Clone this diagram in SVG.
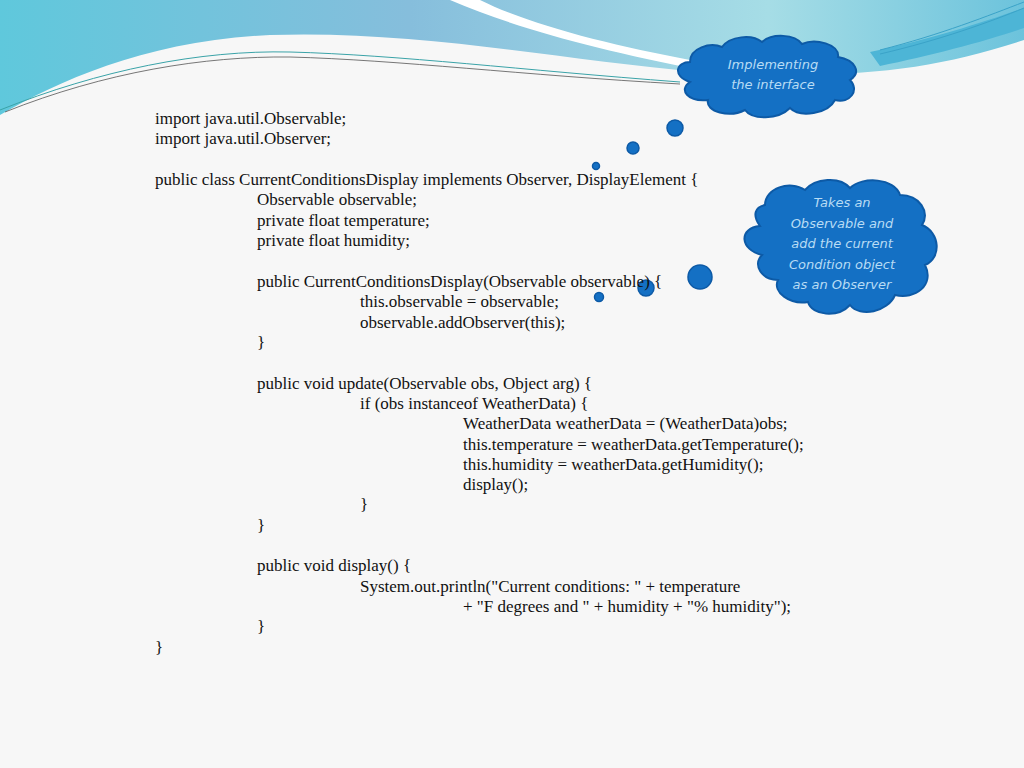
<svg xmlns="http://www.w3.org/2000/svg" width="1024" height="768" viewBox="0 0 1024 768">
<defs>
<linearGradient id="bg" x1="0" y1="0" x2="1" y2="0">
<stop offset="0" stop-color="#5fc8dc"/><stop offset="0.4" stop-color="#86bedc"/><stop offset="0.75" stop-color="#a6dde6"/><stop offset="1" stop-color="#6cc3dc"/>
</linearGradient>
<style>
.code{font-family:"Liberation Serif",serif;font-size:17px;fill:#111}
.cloud{fill:#1470c4;stroke:#0d5aa6;stroke-width:2}
.ct{font-family:"DejaVu Sans",sans-serif;font-style:italic;font-size:13px;fill:#b8dcf4;text-anchor:middle}
.dot{fill:#1470c4;stroke:#0d5aa6;stroke-width:1.5}
</style>
</defs>
<rect width="1024" height="768" fill="#f7f7f7"/>
<path d="M0 0 H1024 V40 C930 70 860 80 700 72 C560 60 420 30 270 35 C150 40 60 80 0 115 Z" fill="url(#bg)"/>
<path d="M450 0 C520 30 600 50 700 70 L690 60 C610 45 530 25 480 0 Z" fill="#ffffff"/>
<path d="M870 52 C930 40 990 20 1024 8 V28 C990 40 930 56 880 66 Z" fill="#4db5d6"/>
<path d="M0 110 C100 70 200 50 290 52 C400 55 520 70 680 82" fill="none" stroke="#3aa3a8" stroke-width="1"/>
<path d="M5 112 C105 72 205 56 290 57 C400 60 520 75 680 84" fill="none" stroke="#555" stroke-width="0.8"/>
<path d="M880 50 C940 35 990 15 1024 2" fill="none" stroke="#3aa3c8" stroke-width="1"/>
<path d="M880 54 C940 40 990 22 1024 8" fill="none" stroke="#3aa3c8" stroke-width="1"/>
<g id="cloud1">
<path class="cloud" d="M690 62 C690 48 710 42 722 47 C730 36 752 34 762 42 C772 33 795 34 802 44 C815 38 840 44 838 57 C855 60 862 72 850 80 C860 90 850 104 835 100 C828 114 800 118 790 108 C778 120 752 120 745 110 C730 118 705 112 708 100 C688 102 678 90 690 82 C672 76 676 62 690 62 Z"/>
<text class="ct" x="773" y="69">Implementing</text>
<text class="ct" x="773" y="89">the interface</text>
</g>
<g id="cloud2">
<path class="cloud" d="M765 205 C765 188 790 180 805 190 C815 178 840 176 850 188 C862 176 895 178 900 195 C920 195 930 212 922 225 C940 232 942 258 925 265 C935 285 915 300 895 295 C888 312 860 318 850 305 C838 318 812 316 808 302 C790 305 772 292 778 280 C762 280 752 265 762 255 C740 250 738 228 760 226 C752 215 755 207 765 205 Z"/>
<text class="ct" x="842" y="207">Takes an</text>
<text class="ct" x="842" y="228">Observable and</text>
<text class="ct" x="842" y="248">add the current</text>
<text class="ct" x="842" y="269">Condition object</text>
<text class="ct" x="842" y="289">as an Observer</text>
</g>
<g id="connectors">
<circle class="dot" cx="675" cy="128" r="8"/>
<circle class="dot" cx="633" cy="148" r="6"/>
<circle class="dot" cx="596" cy="166" r="3.5"/>
<circle class="dot" cx="700" cy="277" r="12"/>
<circle class="dot" cx="646" cy="288" r="8"/>
<circle class="dot" cx="599" cy="297" r="4.5"/>
</g>
<g id="code" class="code">
<text x="155" y="124">import java.util.Observable;</text>
<text x="155" y="144">import java.util.Observer;</text>
<text x="155" y="185">public class CurrentConditionsDisplay implements Observer, DisplayElement {</text>
<text x="257" y="205">Observable observable;</text>
<text x="257" y="226">private float temperature;</text>
<text x="257" y="246">private float humidity;</text>
<text x="257" y="287">public CurrentConditionsDisplay(Observable observable) {</text>
<text x="360" y="307">this.observable = observable;</text>
<text x="360" y="328">observable.addObserver(this);</text>
<text x="257" y="348">}</text>
<text x="257" y="389">public void update(Observable obs, Object arg) {</text>
<text x="360" y="409">if (obs instanceof WeatherData) {</text>
<text x="463" y="429">WeatherData weatherData = (WeatherData)obs;</text>
<text x="463" y="450">this.temperature = weatherData.getTemperature();</text>
<text x="463" y="470">this.humidity = weatherData.getHumidity();</text>
<text x="463" y="490">display();</text>
<text x="360" y="510">}</text>
<text x="257" y="531">}</text>
<text x="257" y="571">public void display() {</text>
<text x="360" y="592">System.out.println("Current conditions: " + temperature</text>
<text x="463" y="612">+ "F degrees and " + humidity + "% humidity");</text>
<text x="257" y="632">}</text>
<text x="155" y="653">}</text>
</g>
</svg>
